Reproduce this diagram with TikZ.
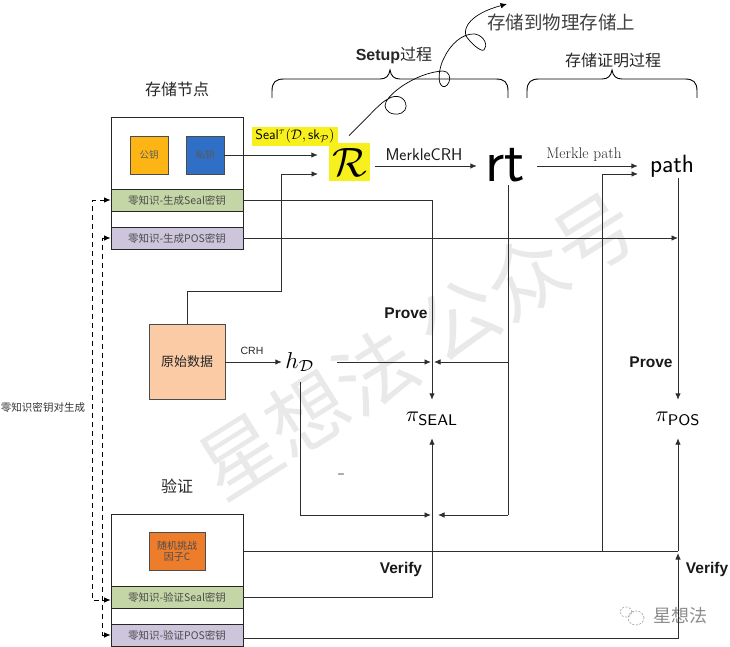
\documentclass[tikz,border=0pt]{standalone}
\usepackage{fontspec}
\usepackage{graphicx}
\usetikzlibrary{arrows.meta,calc}
\newfontfamily\cn{Noto Sans CJK SC}
\newfontfamily\ar{Liberation Sans}
\newcommand{\fs}[1]{\fontsize{#1}{#1}\selectfont}
\definecolor{linec}{HTML}{2E2E2E}
\definecolor{stripg}{HTML}{C5D6A6}
\definecolor{stripp}{HTML}{CCC5DC}
\definecolor{keyo}{HTML}{FDB515}
\definecolor{keyb}{HTML}{2F6FC6}
\definecolor{rawc}{HTML}{FBCBA5}
\definecolor{chalc}{HTML}{EE7D2B}
\definecolor{hl}{HTML}{F8F01C}
\definecolor{mark}{HTML}{E9E9E9}
\tikzset{
  outerbox/.style={draw=black!85,line width=.8pt,fill=white,minimum width=132pt,minimum height=132pt,inner sep=0pt},
  strip/.style={draw=black!85,line width=.8pt,minimum width=132pt,minimum height=22pt,inner sep=0pt,font=\cn\fs{10.5},text=black!70},
  keybox/.style={draw=black!70,line width=.8pt,minimum width=38pt,minimum height=38pt,inner sep=0pt,font=\cn\fs{9.5},text=black!65},
  title/.style={inner sep=0pt,font=\cn\fs{16},text=black!85},
  boldlab/.style={inner sep=0pt,font=\ar\bfseries\fs{15.5},text=black!90},
  sym/.style={inner sep=0pt,text=black},
  conn/.style={draw=linec,line width=.9pt},
  arr/.style={conn,-{Latex[length=6.5pt,width=5.5pt]}},
  dashconn/.style={draw=black,line width=.8pt,dash pattern=on 5pt off 4pt,{Latex[length=6.5pt,width=5.5pt]}-{Latex[length=6.5pt,width=5.5pt]}}
}
\begin{document}
\begin{tikzpicture}[x=1pt,y=-1pt]
\useasboundingbox (0,0) rectangle (730,647);
% watermark
\node[inner sep=0pt,rotate=32,text=mark,font=\cn\fs{80}] (wm) at (417,345) {星想法 公众号};
% storage node
\node[title] (stt) at (177,89) {存储节点};
\node[outerbox] (store) at (177,183) {};
\node[keybox,fill=keyo] (pub) at (149,155) {公钥};
\node[keybox,fill=keyb] (priv) at (205,155) {私钥};
\node[strip,fill=stripg] (sg) at (177,200) {零知识-生成Seal密钥};
\node[strip,fill=stripp] (pg) at (177,238) {零知识-生成POS密钥};
% raw data
\node[draw=black!70,line width=.8pt,fill=rawc,minimum width=76pt,minimum height=75pt,inner sep=0pt,font=\cn\fs{13},text=black!85] (raw) at (187,362) {原始数据};
% verify
\node[title] (vt) at (177,486) {验证};
\node[outerbox] (verify) at (177,580) {};
\node[draw=black!70,line width=.8pt,fill=chalc,minimum width=56pt,minimum height=38pt,inner sep=0pt,align=center,font=\cn\fs{10},text=black!70] (chal) at (177,551) {随机挑战\\[1pt]因子C};
\node[strip,fill=stripg] (vg) at (177,597) {零知识-验证Seal密钥};
\node[strip,fill=stripp] (vp) at (177,635) {零知识-验证POS密钥};
\node[inner sep=0pt,font=\cn\fs{10.5},text=black!80] (kp) at (43,407) {零知识密钥对生成};
% symbols
\node[fill=hl,inner sep=0pt,minimum width=86pt,minimum height=19pt] (seal) at (295,136.5) {\scalebox{1.27}{\fs{11}\textsf{Seal}$^{\tau}(\mathcal{D},\textsf{sk}_{\mathcal{P}})$}};
\node[fill=hl,inner sep=0pt,minimum width=41pt,minimum height=38pt] (R) at (349.5,162) {\scalebox{4.1}{$\mathcal{R}$}};
\node[sym,minimum width=42pt,minimum height=38pt,font=\sffamily\fs{60}] (rt) at (505,166) {\raisebox{3pt}{rt}};
\node[sym,minimum width=50pt,minimum height=24pt,font=\sffamily\fs{25}] (pathn) at (672,166) {\raisebox{1pt}{path}};
\node[sym,minimum width=30pt,minimum height=40pt] (hD) at (300,362) {\scalebox{2.3}{$h_{\mathcal{D}}$}};
\node[sym,minimum height=38pt] (pis) at (432,419) {\scalebox{2.2}{$\pi_{\mathsf{SEAL}}$}};
\node[sym,minimum height=38pt] (pip) at (678,419) {\scalebox{2.2}{$\pi_{\mathsf{POS}}$}};
% labels
\node[inner sep=0pt,font=\sffamily\fs{17},text=black!90] (mc) at (424,155) {MerkleCRH};
\node[inner sep=0pt,font=\rmfamily\fs{15.4},text=black!85] (mp) at (584,155) {Merkle path};
\node[inner sep=0pt,font=\ar\fs{10.5},text=black!85] (crh) at (252,351) {CRH};
\node[boldlab] (pr1) at (406,313) {Prove};
\node[boldlab] (pr2) at (651,362) {Prove};
\node[boldlab] (vf1) at (401,569) {Verify};
\node[boldlab] (vf2) at (707,569) {Verify};
\node[inner sep=0pt,font=\ar\fs{12},text=black!75] (minus) at (341,476) {−};
\node[inner sep=0pt,font=\cn\fs{16},text=black!85] (setup) at (394,55) {{\ar\bfseries Setup}过程};
\node[title] (prooft) at (613,60) {存储证明过程};
\node[inner sep=0pt,font=\cn\fs{18.5},text=black!75] (phys) at (561,22) {存储到物理存储上};
\node[inner sep=0pt,font=\cn\fs{18},text=black!45] (brand) at (680,616) {星想法};
% coordinates
\coordinate (b1) at (281,291);
\coordinate (c1) at (329,174);
\coordinate (hub1) at (432,362);
\coordinate (hub2) at (432,515);
\coordinate (j1) at (508,362);
\coordinate (j2) at (508,515);
\coordinate (cross) at (602,551);
\coordinate (corner) at (678,551);
\coordinate (c2) at (650,174);
\coordinate (dashL) at (92,400);
\coordinate (dashR) at (102,400);
\coordinate (endv) at (678,638);
% connectors
\draw[arr,shorten >=11pt] (priv.east) -- (priv.east -| R.west);
\draw[arr,shorten >=11pt] (raw.north) |- (b1) -- (b1 |- c1) -- (c1);
\draw[arr] (sg.east) -| (pis.north);
\draw[arr] (pg.east) -- (pg.east -| pip.north);
\draw[arr,shorten <=5pt,shorten >=7pt] (R.east |- rt.west) -- (rt.west);
\draw[arr,shorten <=11pt,shorten >=9pt] (rt.east) -- (pathn.west);
\draw[conn] ([xshift=3pt]rt.south) -- (j2);
\draw[arr,shorten >=2pt] (j1) -- (hub1);
\draw[arr,shorten >=6pt] (j2) -- (hub2);
\draw[arr,shorten <=22pt,shorten >=1pt] (hD.east) -- (hub1);
\draw[arr,shorten >=1pt] (hD.south) |- (hub2);
\draw[arr,shorten >=3pt] (raw.east) -- (hD.west);
\draw[arr] (vg.east) -| (pis.south);
\draw[arr] (pathn.south -| pip.north) -- (pip.north);
\draw[conn] (verify.east |- chal) -- (corner);
\draw[arr] (corner) -- (pip.south);
\draw[arr,shorten >=12pt] (cross) |- (c2);
\draw[arr,shorten >=2pt] (vp.east |- endv) -- (endv) -- (corner);
\draw[dashconn] (sg.west) -| (dashL) |- ([yshift=-3pt]vg.west);
\draw[dashconn] (pg.west) -| (dashR) |- (vp.west);
% braces
\draw[black,line width=.9pt] (272,98) -- (272,91) .. controls (272,82) and (276,79) .. (284,79) -- (380,79) .. controls (386,79) and (389,76) .. (390,70) .. controls (391,76) and (394,79) .. (400,79) -- (496,79) .. controls (504,79) and (508,82) .. (508,91) -- (508,98);
\draw[black,line width=.9pt] (527,98) -- (527,91) .. controls (527,82) and (531,79) .. (539,79) -- (602,79) .. controls (608,79) and (611,76) .. (612,70) .. controls (613,76) and (616,79) .. (622,79) -- (685,79) .. controls (693,79) and (697,82) .. (697,91) -- (697,98);
% loop curve
\draw[black,line width=.7pt,-{Latex[length=6.5pt,width=5.5pt]}] (349,135.7)
 .. controls (375,110) and (380,103) .. (388,99)
 .. controls (397,93) and (406,98) .. (406,106)
 .. controls (406,113) and (398,115) .. (394,114)
 .. controls (387,113) and (383,107) .. (386,102)
 .. controls (392,90) and (420,72) .. (443,71)
 .. controls (449,71) and (451,78) .. (449,82)
 .. controls (447,87) and (443,88) .. (441,85)
 .. controls (437,80) and (440,65) .. (444,58)
 .. controls (450,45) and (462,33) .. (475,34)
 .. controls (485,36) and (488,46) .. (484,50)
 .. controls (480,52) and (470,42) .. (466,36)
 .. controls (463,28) and (470,14) .. (507,4);
% wechat icon
\draw[black!40,line width=.6pt,dash pattern=on 2pt off 1.5pt] (626,612) ellipse (6pt and 5pt);
\draw[black!40,line width=.6pt,dash pattern=on 2pt off 1.5pt] (636,618) ellipse (8pt and 7pt);
\end{tikzpicture}
\end{document}
